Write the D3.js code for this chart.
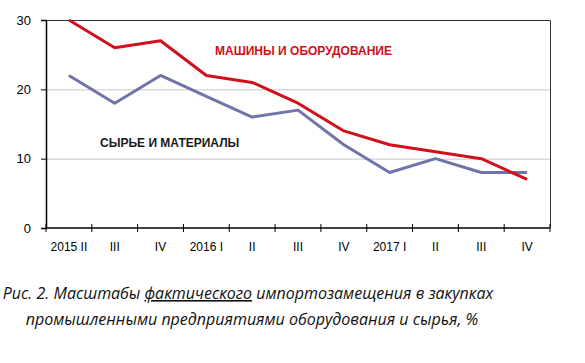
<!DOCTYPE html>
<html>
<head>
<meta charset="utf-8">
<script src="https://cdn.jsdelivr.net/npm/d3@7"></script>
<style>
  body { margin: 0; background: #fff; }
  svg { display: block; }
</style>
</head>
<body>
<script>
// кварталы
const quarters = ["2015 II", "III", "IV", "2016 I", "II", "III", "IV", "2017 I", "II", "III", "IV"];
// машины и оборудование
const machinery = [30, 26, 27, 22, 21, 18, 14, 12, 11, 10, 7];
// сырье и материалы
const materials = [22, 18, 22, 19, 16, 17, 12, 8, 10, 8, 8];
const yTicks = [0, 10, 20, 30];

const chart = {
    width: 585,
    height: 363,
    left: 46,
    right: 550,
    top: 20,
    bottom: 228
}

const svg = d3.select("body").append("svg")
    .attr("width", chart.width)
    .attr("height", chart.height);

const scaleX = d3.scaleBand()
    .domain(quarters.map((q, i) => i))
    .range([chart.left, chart.right]);

const scaleY = d3.scaleLinear()
    .domain([0, 30])
    .range([chart.bottom, chart.top]);

// сетка
svg.append("g")
    .selectAll("line")
    .data(yTicks.filter(t => t > 0 && t < 30))
    .enter()
    .append("line")
    .attr("x1", chart.left)
    .attr("x2", chart.right)
    .attr("y1", d => scaleY(d) + 0.5)
    .attr("y2", d => scaleY(d) + 0.5)
    .attr("stroke", "#c8c8c8")
    .attr("stroke-width", 1);

// рамка сверху и справа
svg.append("path")
    .attr("d", `M${chart.left},${chart.top + 0.5}H${chart.right + 0.5}V${chart.bottom}`)
    .attr("fill", "none")
    .attr("stroke", "#333")
    .attr("stroke-width", 1);

// ось Y
const yAxis = d3.axisLeft(scaleY).tickValues(yTicks).tickSize(5).tickPadding(10);
const gy = svg.append("g")
    .attr("transform", "translate(" + chart.left + ",0)")
    .call(yAxis);
gy.select(".domain").attr("stroke", "#000").attr("stroke-width", 1.5);
gy.selectAll(".tick line").attr("stroke", "#000");
gy.selectAll("text")
    .attr("font-family", "Liberation Sans, Arial, sans-serif")
    .attr("font-size", 13)
    .attr("fill", "#000");

// ось X: штрихи на границах кварталов
const boundaries = quarters.map((q, i) => scaleX(i)).concat([chart.right]);
svg.append("g")
    .selectAll("line")
    .data(boundaries)
    .enter()
    .append("line")
    .attr("x1", d => d)
    .attr("x2", d => d)
    .attr("y1", chart.bottom - 4)
    .attr("y2", chart.bottom + 4)
    .attr("stroke", "#000")
    .attr("stroke-width", 1);

svg.append("line")
    .attr("x1", chart.left)
    .attr("x2", chart.right)
    .attr("y1", chart.bottom)
    .attr("y2", chart.bottom)
    .attr("stroke", "#000")
    .attr("stroke-width", 1.5);

svg.append("g")
    .selectAll("text")
    .data(quarters)
    .enter()
    .append("text")
    .attr("x", (d, i) => scaleX(i) + scaleX.bandwidth() / 2)
    .attr("y", 251)
    .attr("text-anchor", "middle")
    .attr("font-family", "Liberation Sans, Arial, sans-serif")
    .attr("font-size", 12)
    .attr("fill", "#000")
    .text(d => d);

// линии
const line = d3.line()
    .x((d, i) => scaleX(i) + scaleX.bandwidth() / 2)
    .y(d => scaleY(d));

svg.append("path")
    .datum(materials)
    .attr("d", line)
    .attr("fill", "none")
    .attr("stroke", "#7174a8")
    .attr("stroke-width", 3)
    .attr("stroke-linejoin", "round");

svg.append("path")
    .datum(machinery)
    .attr("d", line)
    .attr("fill", "none")
    .attr("stroke", "#d0101a")
    .attr("stroke-width", 3)
    .attr("stroke-linejoin", "round");

// подписи серий
svg.append("text")
    .attr("x", 215)
    .attr("y", 55)
    .attr("font-family", "Liberation Sans, Arial, sans-serif")
    .attr("font-size", 12)
    .attr("font-weight", "bold")
    .attr("fill", "#d0101a")
    .text("МАШИНЫ И ОБОРУДОВАНИЕ");

svg.append("text")
    .attr("x", 100)
    .attr("y", 147)
    .attr("font-family", "Liberation Sans, Arial, sans-serif")
    .attr("font-size", 12)
    .attr("font-weight", "bold")
    .attr("fill", "#1a1a1a")
    .text("СЫРЬЕ И МАТЕРИАЛЫ");

// подпись рисунка
const caption = svg.append("g")
    .attr("font-family", "Open Sans, Noto Sans, sans-serif")
    .attr("font-style", "italic")
    .attr("font-size", 16)
    .attr("fill", "#111");

const line1 = caption.append("text")
    .attr("x", 248)
    .attr("y", 299)
    .attr("text-anchor", "middle");
line1.append("tspan").text("Рис. 2. Масштабы ");
line1.append("tspan").attr("text-decoration", "underline").text("фактического");
line1.append("tspan").text(" импортозамещения в закупках");

caption.append("text")
    .attr("x", 252)
    .attr("y", 325)
    .attr("text-anchor", "middle")
    .text("промышленными предприятиями оборудования и сырья, %");
</script>
</body>
</html>
